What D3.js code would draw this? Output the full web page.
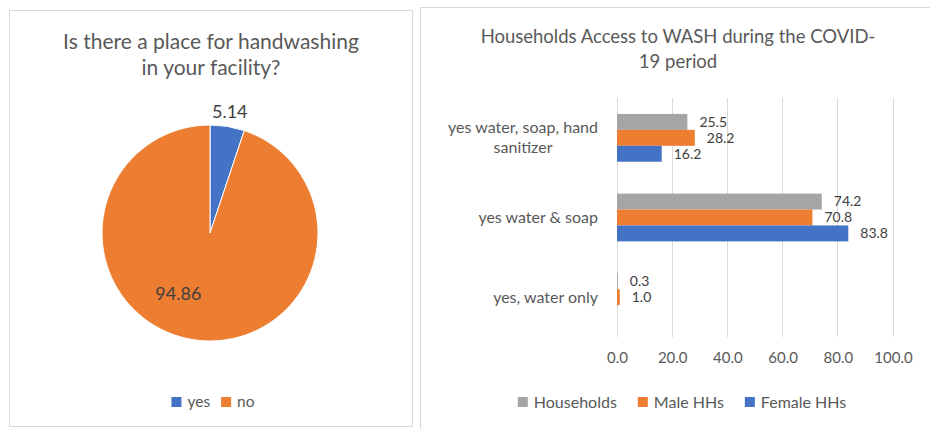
<!DOCTYPE html>
<html>
<head>
<meta charset="utf-8">
<script src="https://cdn.jsdelivr.net/npm/d3@7"></script>
<style>
  body { margin: 0; background: #fff; }
  svg { display: block; }
  text { font-family: Lato, "Open Sans", sans-serif; }
</style>
</head>
<body>
<svg id="chart" width="930" height="429"></svg>
<script>
// ---- Pie: handwashing place in the facility ----
const pieTitle = ["Is there a place for handwashing", "in your facility?"];
const pieCategories = ["yes", "no"];
const pieValues = [5.14, 94.86];
const pieColors = ["#4472C4", "#ED7D31"];

// ---- Bars: household access to WASH ----
const barTitle = ["Households Access to WASH during the COVID-", "19 period"];
const barCategories = ["yes water, soap, hand sanitizer", "yes water & soap", "yes, water only"];
const seriesNames = ["Households", "Male HHs", "Female HHs"];
const householdsValues = [25.5, 74.2, 0.3];
const maleHHsValues = [28.2, 70.8, 1.0];
const femaleHHsValues = [16.2, 83.8, null];
const seriesColors = ["#A5A5A5", "#ED7D31", "#4472C4"];
const xTicks = [0, 20, 40, 60, 80, 100];

const svg = d3.select("#chart");
const TITLE = "#595959", LABEL = "#404040", BORDER = "#d9d9d9";

// panel frames
svg.append("rect").attr("x", 9.5).attr("y", 10.5).attr("width", 403).attr("height", 416)
  .attr("fill", "#fff").attr("stroke", BORDER);
svg.append("rect").attr("x", 420.5).attr("y", 7.5).attr("width", 520).attr("height", 440)
  .attr("fill", "#fff").attr("stroke", BORDER);

// ================= PIE =================
const pieCx = 210, pieCy = 233, pieR = 108;
const pieG = svg.append("g");

pieG.selectAll("text.title").data(pieTitle).join("text")
  .attr("class", "title")
  .attr("x", 211).attr("y", (d, i) => 49 + i * 26)
  .attr("text-anchor", "middle").attr("font-size", 21).attr("fill", TITLE)
  .text(d => d);

const pieData = pieCategories.map((c, i) => ({ name: c, value: pieValues[i], color: pieColors[i] }));
const arcs = d3.pie().sort(null).value(d => d.value)(pieData);
const arc = d3.arc().innerRadius(0).outerRadius(pieR);

const slices = pieG.append("g").attr("transform", `translate(${pieCx},${pieCy})`);
slices.selectAll("path").data(arcs).join("path")
  .attr("d", arc).attr("fill", d => d.data.color)
  .attr("stroke", "#fff").attr("stroke-width", 1);

// data labels: small slice outside, large slice inside (best fit)
const labelPos = (d, i) => {
  const mid = (d.startAngle + d.endAngle) / 2;
  const a = i === 0 ? mid : mid + 18.5 * Math.PI / 180;
  const rho = i === 0 ? pieR + 15 : pieR * 0.63;
  return [Math.sin(a) * rho, -Math.cos(a) * rho];
};
slices.selectAll("text").data(arcs).join("text")
  .attr("x", (d, i) => labelPos(d, i)[0])
  .attr("y", (d, i) => labelPos(d, i)[1])
  .attr("dy", "0.35em").attr("text-anchor", "middle")
  .attr("font-size", 18).attr("fill", LABEL)
  .text(d => d3.format(".2f")(d.data.value));

// legend
function drawLegend(g, items, centerX, y, fontSize, gap) {
  const entries = g.selectAll("g").data(items).join("g");
  entries.append("rect").attr("width", 10).attr("height", 10).attr("y", y - 5)
    .attr("fill", d => d.color);
  entries.append("text").attr("x", 16).attr("y", y).attr("dy", "0.35em")
    .attr("font-size", fontSize).attr("fill", TITLE).text(d => d.name);
  const widths = [];
  entries.each(function () {
    widths.push(16 + d3.select(this).select("text").node().getComputedTextLength());
  });
  const total = d3.sum(widths) + gap * (widths.length - 1);
  let x = centerX - total / 2;
  entries.each(function (d, i) {
    d3.select(this).attr("transform", `translate(${x},0)`);
    x += widths[i] + gap;
  });
}
drawLegend(pieG.append("g"), pieData, 213, 402, 15.5, 11);

// ================= BARS =================
const barG = svg.append("g");
barG.selectAll("text.title").data(barTitle).join("text")
  .attr("class", "title")
  .attr("x", 678).attr("y", (d, i) => 43 + i * 25)
  .attr("text-anchor", "middle").attr("font-size", 18.5).attr("fill", TITLE)
  .text(d => d);

const plot = { left: 617, right: 893, top: 98, bottom: 337 };
const x = d3.scaleLinear().domain([0, 100]).range([plot.left, plot.right]);
const y = d3.scaleBand().domain(barCategories).range([plot.top, plot.bottom])
  .paddingInner(0.4).paddingOuter(0.2);
const ySeries = d3.scaleBand().domain(seriesNames).range([0, y.bandwidth()]);

// gridlines
barG.append("g").selectAll("line").data(xTicks).join("line")
  .attr("x1", d => x(d)).attr("x2", d => x(d))
  .attr("y1", plot.top).attr("y2", plot.bottom)
  .attr("stroke", BORDER).attr("stroke-width", 1).attr("shape-rendering", "crispEdges");

// x axis tick labels
const xAxis = barG.append("g").attr("transform", `translate(0,${plot.bottom})`)
  .call(d3.axisBottom(x).tickValues(xTicks).tickFormat(d3.format(".1f")).tickSize(0).tickPadding(15));
xAxis.select(".domain").remove();
xAxis.selectAll("text").attr("font-size", 15).attr("fill", TITLE).attr("font-family", null);

// bars
const seriesValues = [householdsValues, maleHHsValues, femaleHHsValues];
const barRows = [];
barCategories.forEach((c, ci) => {
  seriesNames.forEach((s, si) => {
    const v = seriesValues[si][ci];
    if (v !== null) barRows.push({ category: c, series: s, value: v, color: seriesColors[si] });
  });
});
const barsG = barG.append("g");
barsG.selectAll("rect").data(barRows).join("rect")
  .attr("x", x(0))
  .attr("y", d => y(d.category) + ySeries(d.series))
  .attr("width", d => x(d.value) - x(0))
  .attr("height", ySeries.bandwidth())
  .attr("fill", d => d.color);
barsG.selectAll("text").data(barRows).join("text")
  .attr("x", d => x(d.value) + 12)
  .attr("y", d => y(d.category) + ySeries(d.series) + ySeries.bandwidth() / 2)
  .attr("dy", "0.35em").attr("font-size", 14).attr("fill", LABEL)
  .text(d => d3.format(".1f")(d.value));

// category labels, wrapped and centred within a right-aligned block
const labelRight = 598, labelMax = 180, lineH = 20, catFont = 16;
barCategories.forEach(c => {
  const t = barG.append("text").attr("font-size", catFont).attr("fill", TITLE).attr("text-anchor", "middle");
  const words = c.split(" ");
  const lines = [];
  let line = [];
  const probe = barG.append("text").attr("font-size", catFont);
  words.forEach(w => {
    probe.text(line.concat(w).join(" "));
    if (probe.node().getComputedTextLength() > labelMax && line.length) {
      lines.push(line.join(" "));
      line = [w];
    } else line.push(w);
  });
  lines.push(line.join(" "));
  const widths = lines.map(l => { probe.text(l); return probe.node().getComputedTextLength(); });
  probe.remove();
  const cx = labelRight - d3.max(widths) / 2;
  const cy = y(c) + y.bandwidth() / 2;
  lines.forEach((l, i) => {
    t.append("tspan").attr("x", cx)
      .attr("y", cy + (i - (lines.length - 1) / 2) * lineH)
      .attr("dy", "0.35em").text(l);
  });
});

// legend
const barLegend = seriesNames.map((s, i) => ({ name: s, color: seriesColors[i] }));
drawLegend(barG.append("g"), barLegend, 682, 402, 16, 21);
</script>
</body>
</html>
